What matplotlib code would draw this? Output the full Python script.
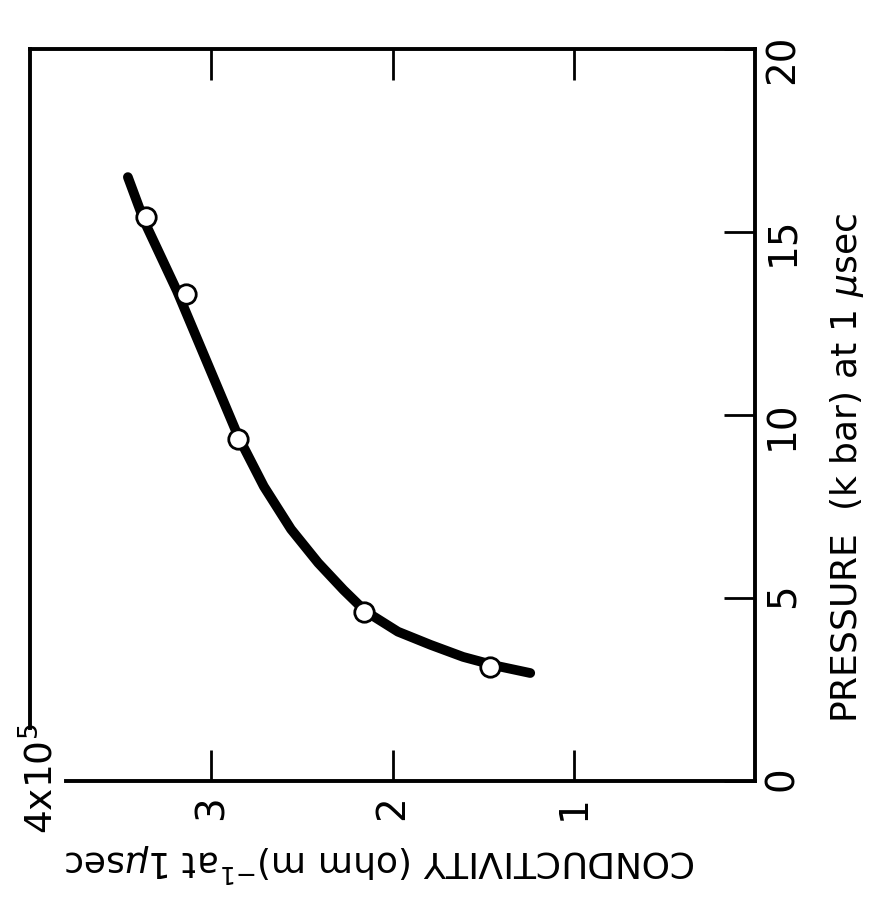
import matplotlib
matplotlib.use("Agg")
import matplotlib.pyplot as plt

# conductivity in units of 1e5 (ohm m)^-1, pressure in kbar
curve_cond = [3.46, 3.37, 3.19, 3.02, 2.85, 2.71, 2.56, 2.41, 2.27, 2.15,
              1.97, 1.79, 1.61, 1.43, 1.24]
curve_pres = [16.5, 15.3, 13.4, 11.4, 9.4, 8.05, 6.88, 5.96, 5.22, 4.64,
              4.08, 3.72, 3.39, 3.15, 2.95]

point_cond = [3.36, 3.14, 2.85, 2.16, 1.46]
point_pres = [15.4, 13.3, 9.35, 4.63, 3.12]

cond_ticks = [3, 2, 1]
cond_labels = ["3", "2", "1"]
pres_ticks = [0, 5, 10, 15, 20]
pres_labels = ["0", "5", "10", "15", "20"]

plt.rcParams["font.family"] = ["DejaVu Sans"]
plt.rcParams["mathtext.fontset"] = "dejavusans"

fig = plt.figure(figsize=(8.72, 9.10), dpi=100)
ax = fig.add_axes([30 / 872, 1 - 781 / 910, 725 / 872, 732 / 910])

ax.plot(curve_cond, curve_pres, color="black", lw=7, solid_capstyle="round",
        solid_joinstyle="round", zorder=2)
ax.plot(point_cond, point_pres, ls="none", marker="o", ms=14,
        mfc="white", mec="black", mew=2, zorder=3)

ax.set_xlim(4, 0)
ax.set_ylim(0, 20)

for s in ax.spines.values():
    s.set_linewidth(2.8)
# the frame is broken round the 4x10^5 label
ax.spines["left"].set_bounds(1.45, 20)
ax.spines["bottom"].set_bounds(0, 3.8)

ax.set_xticks(cond_ticks)
ax.set_xticklabels(cond_labels)
ax.set_yticks(pres_ticks)
ax.set_yticklabels(pres_labels)
ax.yaxis.tick_right()
ax.tick_params(axis="x", which="both", direction="in", length=22, width=2,
               top=True, bottom=True, labelsize=28, labelrotation=90, pad=10)
ax.tick_params(axis="y", which="both", direction="in", length=22, width=2,
               left=False, right=True, labelsize=28, labelrotation=90, pad=6)

ax.text(3.94, 0.05, r"4x10$^5$", rotation=90, fontsize=27,
        ha="center", va="center", clip_on=False)

ax.yaxis.set_label_position("right")
ax.set_ylabel(r"PRESSURE  (k bar) at 1 $\mu$sec", fontsize=26, rotation=90,
              ha="center", va="center")
ax.yaxis.set_label_coords(1.127, 0.428)
ax.set_xlabel(r"CONDUCTIVITY (ohm m)$^{-1}$at 1$\mu$sec", fontsize=26, rotation=180,
              ha="center", va="center")
ax.xaxis.set_label_coords(0.483, -0.111)

fig.savefig("out.png", dpi=100)
